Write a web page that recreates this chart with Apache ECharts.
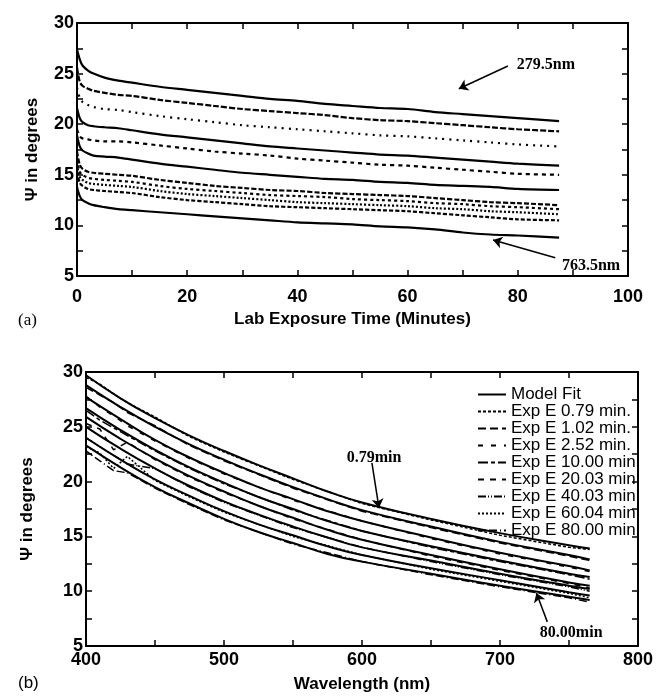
<!DOCTYPE html>
<html><head><meta charset="utf-8">
<script src="https://cdn.jsdelivr.net/npm/echarts@6/dist/echarts.min.js"></script>
<style>html,body{margin:0;padding:0;background:#fff}#c{width:656px;height:696px}</style>
</head><body><div id="c"></div>
<script>
// ---------- Panel (a): Psi vs lab exposure time ----------
const times = [0,0.5,1,2,3,5,7.5,10,15,20,25,30,35,40,45,50,55,60,65,70,75,80,87.5];
const trace1 = [27.4,26.4,25.8,25.3,25.0,24.6,24.3,24.1,23.7,23.4,23.1,22.8,22.5,22.3,22.0,21.8,21.6,21.5,21.2,21.0,20.8,20.6,20.3];
const trace2 = [25.6,24.2,23.8,23.5,23.3,23.1,22.9,22.8,22.4,22.1,21.8,21.5,21.3,21.1,20.9,20.6,20.4,20.3,20.1,19.9,19.7,19.5,19.3];
const trace3 = [23.6,22.6,22.2,21.9,21.7,21.5,21.4,21.2,20.8,20.5,20.2,19.9,19.7,19.5,19.3,19.1,18.9,18.8,18.6,18.4,18.2,18.0,17.8];
const trace4 = [21.6,20.6,20.2,19.9,19.8,19.7,19.6,19.4,19.0,18.7,18.4,18.1,17.8,17.6,17.4,17.2,17.0,16.9,16.7,16.5,16.3,16.1,15.9];
const trace5 = [19.5,18.8,18.6,18.5,18.4,18.3,18.3,18.2,17.9,17.6,17.3,17.1,16.9,16.6,16.4,16.2,16.0,15.9,15.7,15.5,15.3,15.1,15.0];
const trace6 = [18.9,17.8,17.4,17.1,16.9,16.8,16.7,16.5,16.1,15.8,15.5,15.2,15.0,14.8,14.6,14.5,14.3,14.2,14.0,13.9,13.8,13.6,13.5];
const trace7 = [17.3,16.0,15.6,15.3,15.2,15.1,15.0,14.9,14.5,14.2,13.9,13.7,13.5,13.4,13.2,13.1,13.0,12.9,12.7,12.5,12.3,12.2,12.0];
const trace8 = [16.5,15.3,15.0,14.7,14.6,14.5,14.4,14.3,13.9,13.6,13.4,13.2,13.0,12.9,12.8,12.6,12.5,12.4,12.2,12.1,11.9,11.8,11.6];
const trace9 = [16.0,14.8,14.5,14.2,14.1,14.0,13.9,13.8,13.4,13.1,12.9,12.7,12.5,12.3,12.2,12.1,12.0,11.9,11.7,11.6,11.4,11.3,11.1];
const trace10 = [15.3,14.2,13.9,13.6,13.5,13.4,13.3,13.2,12.8,12.5,12.3,12.1,11.9,11.8,11.7,11.6,11.5,11.4,11.2,11.0,10.8,10.6,10.5];
const trace11 = [13.8,12.9,12.5,12.2,12.0,11.8,11.6,11.5,11.3,11.1,10.9,10.7,10.5,10.3,10.2,10.1,9.9,9.8,9.6,9.3,9.1,9.0,8.8];
const traceNames = ['279.5nm','trace 2','trace 3','trace 4','trace 5','trace 6','trace 7','trace 8','trace 9','trace 10','763.5nm'];
const traces = [trace1,trace2,trace3,trace4,trace5,trace6,trace7,trace8,trace9,trace10,trace11];

// ---------- Panel (b): Psi vs wavelength ----------
const wl = [400,425,450,475,500,525,550,575,600,650,700,750,765];
const fit079 = [29.7,27.6,25.8,24.2,22.8,21.5,20.3,19.1,18.1,16.6,15.3,14.2,13.9];
const fit102 = [28.8,26.8,25.0,23.4,22.0,20.7,19.5,18.4,17.4,15.9,14.5,13.3,12.9];
const fit252 = [27.7,25.7,23.8,22.2,20.8,19.5,18.4,17.3,16.4,14.9,13.5,12.3,11.9];
const fit1000 = [26.7,24.7,22.9,21.3,19.9,18.6,17.5,16.4,15.5,14.1,12.8,11.6,11.3];
const fit2003 = [25.9,23.9,22.1,20.5,19.1,17.8,16.7,15.6,14.7,13.3,12.0,10.8,10.5];
const fit4003 = [25.0,23.0,21.2,19.6,18.2,17.0,15.9,14.9,14.0,12.8,11.6,10.5,10.2];
const fit6004 = [24.0,22.0,20.2,18.7,17.3,16.1,15.1,14.1,13.3,12.1,11.0,9.9,9.6];
const fit8000 = [23.3,21.3,19.5,18.0,16.6,15.4,14.4,13.4,12.7,11.6,10.5,9.5,9.2];
const fits = [fit079,fit102,fit252,fit1000,fit2003,fit4003,fit6004,fit8000];

const expWl = [400,410,420,430,450,475,500,550,600,650,700,750,765];
const exp079 = [29.5,28.9,28.0,27.2,25.9,24.1,22.7,20.2,18.0,16.5,15.1,14.0,13.8];
const exp102 = [28.6,27.9,27.2,26.3,25.1,23.3,21.9,19.4,17.3,15.8,14.4,13.2,12.8];
const exp252 = [27.8,26.8,26.0,25.1,23.7,22.1,20.7,18.3,16.4,14.8,13.4,12.2,11.8];
const exp1000 = [26.5,25.6,24.9,24.2,22.8,21.2,19.8,17.4,15.5,14.0,12.7,11.5,11.1];
const exp2003 = [25.3,24.8,22.9,23.6,22.0,20.4,19.0,16.6,14.7,13.2,11.9,10.7,10.3];
const exp4003 = [24.0,23.2,22.4,21.6,21.2,19.5,18.1,15.8,14.0,12.7,11.5,10.4,10.0];
const exp6004 = [23.2,22.6,21.2,22.3,20.1,18.6,17.2,15.0,13.3,12.0,10.9,9.8,9.4];
const exp8000 = [22.8,21.9,21.0,20.8,19.4,17.9,16.5,14.3,12.7,11.5,10.4,9.4,9.0];
const exps = [exp079,exp102,exp252,exp1000,exp2003,exp4003,exp6004,exp8000];
const expNames = ['Exp E 0.79 min.','Exp E 1.02 min.','Exp E 2.52 min.','Exp E 10.00 min.','Exp E 20.03 min.','Exp E 40.03 min.','Exp E 60.04 min.','Exp E 80.00 min.'];

const xTicksA = [0,20,40,60,80,100];
const yTicks = [5,10,15,20,25,30];
const xTicksB = [400,500,600,700,800];

// ---------- styling ----------
const SANS = 'Liberation Sans';
const SERIF = 'Liberation Serif';
const traceDash = ['solid',[6,2],[2,5],'solid',[4,4],'solid',[5,2],[3,3],[2,2],[4,2],'solid'];
const expDash = [[3,2],[8,4],[5,8],[10,3,4,3],[6,6],[8,2,1,2,1,2],[2,2],[8,3,8,3,1,3]];

function pairs(xs, ys){ return xs.map((x,i)=>[x, ys[i]]); }

function axis(gridIndex, pos, min, max, interval, showLabel, margin, name, nameGap){
  const o = {
    type:'value', gridIndex, position:pos, min, max, interval,
    axisLine:{show:true, onZero:false, lineStyle:{color:'#000', width:2}},
    axisTick:{show:true, inside:true, length:6, lineStyle:{color:'#000', width:1.5}},
    minorTick:{show:true, splitNumber:2, length:6, lineStyle:{color:'#000', width:1.5}},
    splitLine:{show:false},
    axisLabel:{show:showLabel, color:'#000', fontFamily:SANS, fontWeight:'bold', fontSize:18, margin:margin}
  };
  if (name){
    o.name = name; o.nameLocation = 'middle'; o.nameGap = nameGap;
    o.nameTextStyle = {color:'#000', fontFamily:SANS, fontWeight:'bold', fontSize:17};
  }
  return o;
}

const series = [];
traces.forEach((t,i)=>{
  series.push({
    type:'line', name:traceNames[i], xAxisIndex:0, yAxisIndex:0,
    data:pairs(times,t), showSymbol:false, symbol:'none', smooth:0.3,
    itemStyle:{color:'#000'},
    lineStyle:{color:'#000', width:2.2, type:traceDash[i]}, silent:true
  });
});
// annotations (a)
series[0].markLine = {
  silent:true, symbol:['none','arrow'], symbolSize:9, label:{show:false},
  lineStyle:{color:'#000', width:1.5, type:'solid'},
  data:[
    [{coord:[78.2,25.75]},{coord:[69.3,23.5]}],
    [{coord:[86.8,6.8]},{coord:[75.5,8.55]}]
  ]
};
series[0].markPoint = {
  silent:true, symbol:'circle', symbolSize:1, itemStyle:{color:'rgba(0,0,0,0)'},
  label:{show:true, position:'inside', formatter:'{b}', color:'#000', fontFamily:SERIF, fontWeight:'bold', fontSize:16},
  data:[{name:'279.5nm', coord:[85.1,25.85]},{name:'763.5nm', coord:[93.3,6.0]}]
};

exps.forEach((e,i)=>{
  series.push({
    type:'line', name:expNames[i], xAxisIndex:2, yAxisIndex:2,
    data:pairs(expWl,e), showSymbol:false, symbol:'none',
    itemStyle:{color:'#000'},
    lineStyle:{color:'#000', width:1.5, type:expDash[i]}, silent:true
  });
});
fits.forEach((f,i)=>{
  series.push({
    type:'line', name:'Model Fit', xAxisIndex:2, yAxisIndex:2,
    data:pairs(wl,f), showSymbol:false, symbol:'none', smooth:true,
    itemStyle:{color:'#000'},
    lineStyle:{color:'#000', width:2, type:'solid'}, silent:true
  });
});
const lastFit = series[series.length-1];
lastFit.markLine = {
  silent:true, symbol:['none','arrow'], symbolSize:9, label:{show:false},
  lineStyle:{color:'#000', width:1.5, type:'solid'},
  data:[
    [{coord:[607.2,21.7]},{coord:[612.3,17.6]}],
    [{coord:[734.3,7.2]},{coord:[726.4,9.84]}]
  ]
};
lastFit.markPoint = {
  silent:true, symbol:'circle', symbolSize:1, itemStyle:{color:'rgba(0,0,0,0)'},
  label:{show:true, position:'inside', formatter:'{b}', color:'#000', fontFamily:SERIF, fontWeight:'bold', fontSize:16},
  data:[{name:'0.79min', coord:[608.7,22.15]},{name:'80.00min', coord:[751.6,6.2]}]
};

const option = {
  animation:false,
  backgroundColor:'#fff',
  grid:[
    {left:77, top:23, width:551, height:253},
    {left:86, top:372, width:554, height:274}
  ],
  xAxis:[
    axis(0,'bottom',xTicksA[0],xTicksA[xTicksA.length-1],20,true,12,'Lab Exposure Time (Minutes)',35),
    axis(0,'top',xTicksA[0],xTicksA[xTicksA.length-1],20,false,0),
    axis(1,'bottom',xTicksB[0],xTicksB[xTicksB.length-1],100,true,5,'Wavelength (nm)',30),
    axis(1,'top',xTicksB[0],xTicksB[xTicksB.length-1],100,false,0)
  ],
  yAxis:[
    axis(0,'left',yTicks[0],yTicks[yTicks.length-1],5,true,3,'Ψ in degrees',36),
    axis(0,'right',yTicks[0],yTicks[yTicks.length-1],5,false,0),
    axis(1,'left',yTicks[0],yTicks[yTicks.length-1],5,true,3,'Ψ in degrees',50),
    axis(1,'right',yTicks[0],yTicks[yTicks.length-1],5,false,0)
  ],
  legend:{
    show:true, orient:'vertical', left:472, top:381, itemWidth:28, itemHeight:10, itemGap:0,
    itemStyle:{opacity:0},
    textStyle:{color:'#000', fontFamily:SANS, fontSize:17, lineHeight:16.3},
    data:['Model Fit'].concat(expNames), selectedMode:false
  },
  graphic:[
    {type:'text', left:18, top:312, style:{text:'(a)', font:'17px "Liberation Serif"', fill:'#000'}},
    {type:'text', left:18, top:675, style:{text:'(b)', font:'17px "Liberation Sans"', fill:'#000'}}
  ],
  series
};

const chart = echarts.init(document.getElementById('c'), null, {renderer:'canvas'});
chart.setOption(option);
</script>
</body></html>
